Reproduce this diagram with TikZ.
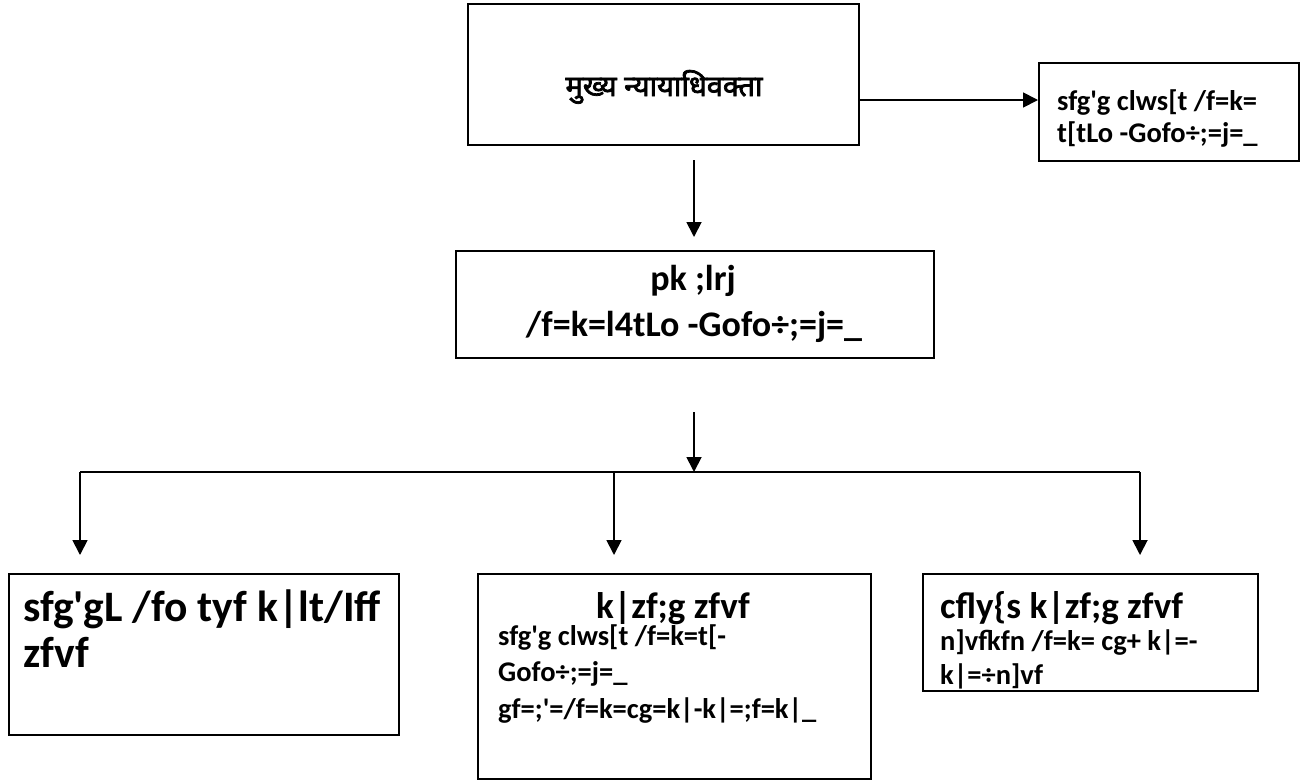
\documentclass[tikz,border=0pt]{standalone}
\usepackage{fontspec}
\usetikzlibrary{arrows.meta}
\newfontfamily\calib{Carlito}
\newfontfamily\deva[Script=Devanagari, AutoFakeBold=2.5]{Noto Sans}
\tikzset{
  box/.style={draw=black, line width=2pt, anchor=north west, inner sep=0pt, rectangle},
  arr/.style={line width=1.8pt, -{Triangle[length=15pt,width=15pt]}},
  ln/.style={line width=1.8pt},
  devtxt/.style={font=\deva\bfseries\fontsize{29}{34}\selectfont, inner sep=0pt},
  hugetxt/.style={font=\calib\bfseries\fontsize{43.5}{52}\selectfont, inner sep=0pt},
  bigtxt/.style={font=\calib\bfseries\fontsize{37}{44}\selectfont, inner sep=0pt},
  midtxt/.style={font=\calib\bfseries\fontsize{36}{42}\selectfont, inner sep=0pt},
  smtxt/.style={font=\calib\bfseries\fontsize{28.5}{34}\selectfont, inner sep=0pt},
}
\begin{document}
\begin{tikzpicture}[x=1pt,y=-1pt]
\useasboundingbox (0,0) rectangle (1306,780);
% boxes
\node[box, minimum width=391pt, minimum height=141pt] (chief) at (467,3) {};
\node[box, minimum width=260pt, minimum height=98pt] (rb) at (1038,62) {};
\node[box, minimum width=478pt, minimum height=107pt] (mid) at (455,250) {};
\node[box, minimum width=390pt, minimum height=161pt] (bl) at (8,573) {};
\node[box, minimum width=393pt, minimum height=205pt] (bm) at (477,573) {};
\node[box, minimum width=335pt, minimum height=117pt] (br) at (922,573) {};
% texts
\node[devtxt, anchor=base] (chiefT) at (664,96) {मुख्य न्यायाधिवक्ता};
\node[smtxt, anchor=base west] (rb1) at (1057,110) {sfg'g clws[t /f=k=};
\node[smtxt, anchor=base west] (rb2) at (1057,142) {t[tLo -Gofo÷;=j=\_};
\node[midtxt, anchor=base] (mid1) at (693,290) {pk ;lrj};
\node[midtxt, anchor=base] (mid2) at (694,336) {/f=k=l4tLo -Gofo÷;=j=\_};
\node[hugetxt, anchor=base west] (bl1) at (23,621) {sfg'gL /fo tyf k|lt/Iff};
\node[hugetxt, anchor=base west] (bl2) at (23,667) {zfvf};
\node[bigtxt, anchor=base] (bm1) at (673,618) {k|zf;g zfvf};
\node[smtxt, anchor=base west] (bm2) at (498,645) {sfg'g clws[t /f=k=t[-};
\node[smtxt, anchor=base west] (bm3) at (498,681) {Gofo÷;=j=\_};
\node[smtxt, anchor=base west] (bm4) at (498,718) {gf=;'=/f=k=cg=k|-k|=;f=k|\_};
\node[bigtxt, anchor=base west] (br1) at (940,618) {cfly\{s k|zf;g zfvf};
\node[smtxt, anchor=base west] (br2) at (940,650) {n]vfkfn /f=k= cg+ k|=-};
\begin{scope}
  \clip (922,573) rectangle (1257,689);
  \node[smtxt, anchor=base west] (br3) at (940,684) {k|=÷n]vf};
\end{scope}
% connectors
\coordinate (c1) at (858,100);
\draw[arr] (c1) -- (c1 -| rb.west);
\coordinate (c2) at (694,160);
\coordinate (c3) at (694,237);
\draw[arr] (c2) -- (c3);
\coordinate (c4) at (694,412);
\coordinate (j) at (694,472);
\draw[arr] (c4) -- (j);
\coordinate (hl) at (80,472);
\coordinate (hm) at (614,472);
\coordinate (hr) at (1140,472);
\draw[ln] (hl) -- (hr);
\coordinate (tl) at (80,555);
\coordinate (tm) at (614,555);
\coordinate (tr) at (1140,555);
\draw[arr] (hl) -- (tl);
\draw[arr] (hm) -- (tm);
\draw[arr] (hr) -- (tr);
\end{tikzpicture}
\end{document}
